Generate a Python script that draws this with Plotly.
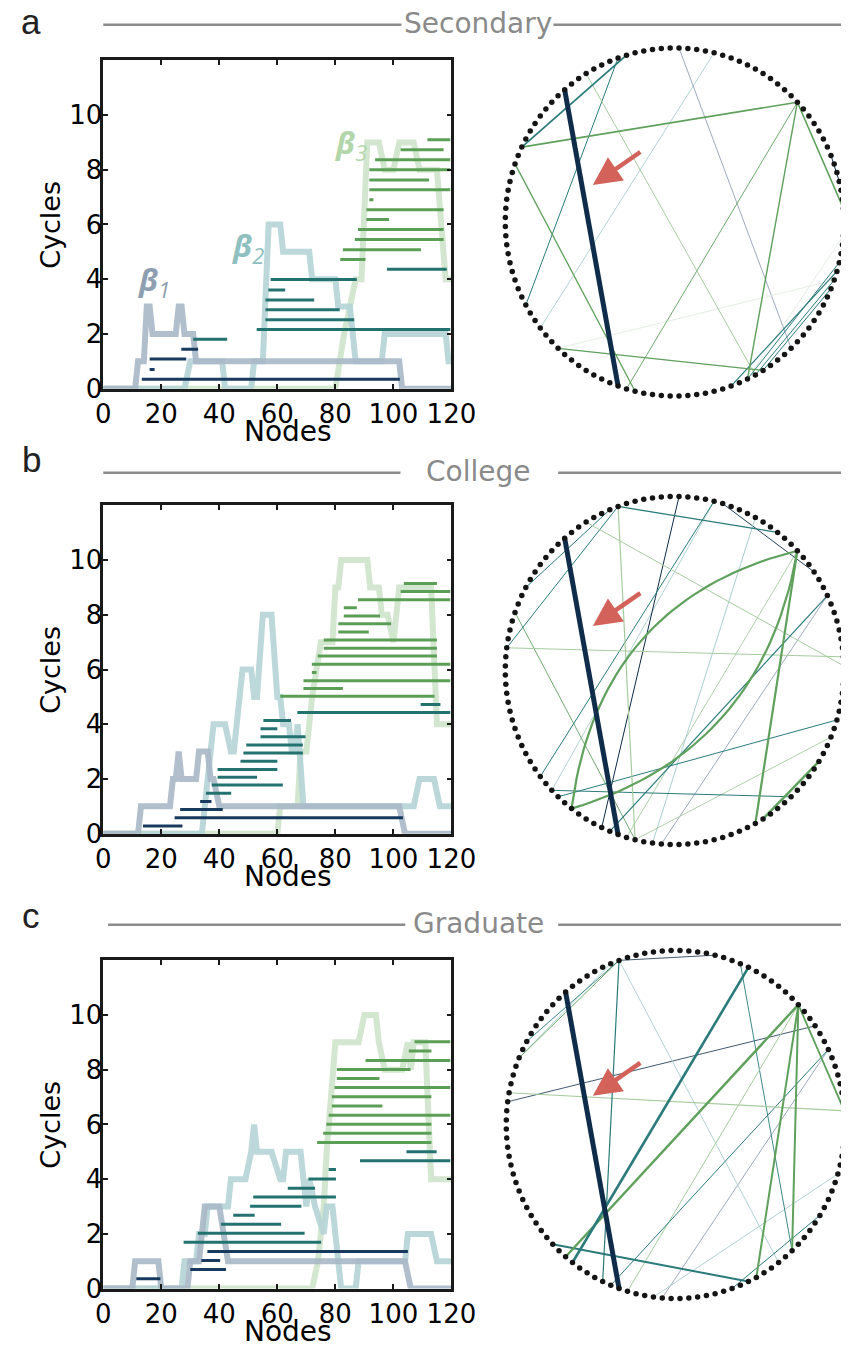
import math
import plotly.graph_objects as go

W, H = 866, 1359

# ------------------------------------------------------------------ data
panel_letters = ["a", "b", "c"]
panel_titles = ["Secondary", "College", "Graduate"]
x_ticks = [0, 20, 40, 60, 80, 100, 120]
y_ticks = [0, 2, 4, 6, 8, 10]

# Betti curves (node index, number of cycles)
a_beta1_x = [0, 11, 12, 14, 15, 16, 17, 25, 26, 27, 28, 31, 32, 102, 103, 120]
a_beta1_y = [0, 0, 1, 1, 3, 3, 2, 2, 3, 3, 2, 2, 1, 1, 0, 0]
a_beta2_x = [0, 28, 30, 41, 42, 51, 52, 55, 57, 61, 62, 71, 72, 80, 81, 85, 87, 96, 97, 118, 119, 120]
a_beta2_y = [0, 0, 1, 1, 0, 0, 1, 1, 6, 6, 5, 5, 4, 4, 3, 3, 1, 1, 2, 2, 1, 1]
a_beta3_x = [0, 80, 83, 87, 89, 91, 95, 97, 100, 102, 107, 109, 115, 118, 120]
a_beta3_y = [0, 0, 2, 4, 4, 9, 9, 8, 8, 9, 9, 8, 8, 4, 4]

b_beta1_x = [0, 12, 13, 23, 24, 25, 26, 27, 32, 33, 36, 37, 38, 40, 102, 104, 120]
b_beta1_y = [0, 0, 1, 1, 2, 2, 3, 2, 2, 3, 3, 2, 2, 1, 1, 0, 0]
b_beta2_x = [0, 34, 38, 42, 44, 45, 48, 51, 52, 53, 55, 58, 60, 61, 62, 64, 65, 66, 67, 69, 107, 109, 114, 116, 120]
b_beta2_y = [0, 0, 4, 4, 3, 3, 6, 6, 5, 5, 8, 8, 5, 5, 4, 4, 3, 3, 4, 1, 1, 2, 2, 1, 1]
b_beta3_x = [0, 60, 61, 67, 68, 70, 72, 75, 79, 80, 81, 82, 91, 92, 95, 96, 98, 100, 102, 113, 115, 120]
b_beta3_y = [0, 0, 1, 1, 3, 3, 5, 7, 7, 9, 9, 10, 10, 9, 9, 8, 8, 7, 9, 9, 4, 4]

c_beta1_x = [0, 10, 11, 19, 20, 29, 30, 33, 35, 40, 43, 104, 106, 120]
c_beta1_y = [0, 0, 1, 1, 0, 0, 1, 1, 3, 3, 1, 1, 0, 0]
c_beta2_x = [0, 27, 28, 32, 33, 35, 36, 43, 44, 49, 51, 52, 53, 58, 61, 62, 63, 68, 70, 71, 73, 76, 77, 79, 82, 87, 88, 104, 105, 113, 115, 120]
c_beta2_y = [0, 0, 1, 1, 2, 2, 3, 3, 4, 4, 5, 6, 5, 5, 4, 4, 5, 5, 3, 4, 3, 2, 3, 3, 0, 0, 1, 1, 2, 2, 1, 1]
c_beta3_x = [0, 72, 74, 76, 77, 79, 80, 88, 90, 94, 95, 97, 103, 105, 106, 107, 111, 113, 120]
c_beta3_y = [0, 0, 1, 3, 5, 8, 9, 9, 10, 10, 9, 8, 8, 9, 8, 9, 9, 4, 4]

# Barcodes: birth, death, vertical position
a_bar1_start = [13.3, 16.0, 16.0, 26.9]
a_bar1_end = [102.2, 17.7, 28.6, 32.7]
a_bar1_y = [0.34, 0.70, 1.08, 1.44]
a_bar2_start = [31.0, 52.9, 55.9, 55.9, 55.9, 56.9, 57.7, 97.8]
a_bar2_end = [42.7, 119.6, 86.5, 81.5, 72.7, 62.7, 87.4, 118.4]
a_bar2_y = [1.81, 2.16, 2.52, 2.88, 3.24, 3.61, 3.99, 4.36]
a_bar3_start = [81.7, 82.6, 86.7, 87.8, 90.7, 90.7, 91.7, 91.7, 91.7, 91.7, 93.7, 102.5, 111.7]
a_bar3_end = [90.4, 109.5, 117.3, 117.3, 98.5, 117.3, 93.1, 119.6, 112.3, 119.6, 119.6, 117.3, 119.6]
a_bar3_y = [4.72, 5.08, 5.45, 5.82, 6.18, 6.54, 6.90, 7.27, 7.63, 8.00, 8.37, 8.73, 9.10]

b_bar1_start = [13.7, 24.6, 26.5, 33.4]
b_bar1_end = [27.3, 103.3, 41.2, 37.3]
b_bar1_y = [0.28, 0.58, 0.88, 1.18]
b_bar2_start = [35.4, 37.4, 39.4, 39.4, 47.3, 48.3, 49.3, 54.2, 54.2, 55.2, 66.9, 109.4]
b_bar2_end = [44.1, 61.9, 53.0, 60.0, 60.0, 68.8, 68.8, 69.7, 60.0, 64.7, 119.6, 116.2]
b_bar2_y = [1.48, 1.78, 2.06, 2.35, 2.65, 2.95, 3.24, 3.54, 3.84, 4.14, 4.43, 4.72]
b_bar3_start = [61.0, 69.0, 69.0, 71.9, 71.9, 73.9, 76.0, 76.0, 81.0, 81.0, 82.9, 82.9, 87.8, 102.5, 103.6]
b_bar3_end = [114.2, 82.6, 119.6, 73.5, 119.6, 115.0, 115.0, 115.0, 91.5, 99.2, 95.4, 87.4, 119.6, 119.6, 115.0]
b_bar3_y = [5.02, 5.31, 5.59, 5.89, 6.19, 6.49, 6.78, 7.08, 7.37, 7.67, 7.96, 8.26, 8.55, 8.85, 9.14]

c_bar1_start = [11.4, 30.0, 33.8, 35.9]
c_bar1_end = [19.7, 42.3, 40.3, 105.0]
c_bar1_y = [0.36, 0.70, 1.03, 1.36]
c_bar2_start = [27.7, 32.6, 40.6, 44.8, 50.6, 51.7, 63.6, 70.7, 77.7, 88.5, 104.5]
c_bar2_end = [75.1, 69.4, 61.3, 52.2, 68.3, 80.2, 73.0, 80.2, 80.2, 119.6, 114.9]
c_bar2_y = [1.69, 2.02, 2.35, 2.68, 3.01, 3.35, 3.67, 4.01, 4.35, 4.67, 5.00]
c_bar3_start = [73.7, 75.8, 76.9, 77.7, 78.8, 78.8, 79.7, 80.5, 80.5, 90.4, 105.3, 107.3]
c_bar3_end = [113.1, 113.1, 113.1, 119.6, 96.2, 113.1, 119.6, 95.2, 105.9, 119.6, 113.1, 119.6]
c_bar3_y = [5.34, 5.68, 6.01, 6.34, 6.67, 7.01, 7.35, 7.68, 8.01, 8.34, 8.68, 9.02]

# Circle graphs: 120 nodes, edges between node indices
n_nodes = 120
a_src = [43, 35, 36, 51, 14, 14, 14, 53, 40, 25, 29, 75, 75, 118, 96, 99, 98, 100, 7]
a_dst = [83, 51, 69, 14, 1, 98, 84, 85, 99, 72, 104, 100, 113, 98, 114, 113, 115, 112, 4]
a_kind = ["n", "t", "t", "g", "g", "g", "g", "g", "lg", "lt", "gb", "g", "vl", "vl", "t", "t", "t", "t", "n"]
a_wid = [5, 1.8, 1.0, 1.6, 1.6, 1.4, 0.9, 1.3, 1.0, 0.8, 0.8, 1.3, 0.8, 0.8, 1.2, 1.0, 1.0, 1.0, 1.0]
a_bend = [0] * 19

b_src = [43, 14, 14, 14, 14, 36, 24, 29, 25, 36, 37, 36, 40, 57, 53, 8, 8, 20, 75, 74, 85, 100, 25]
b_dst = [83, 77, 77, 99, 84, 17, 11, 81, 72, 57, 50, 85, 0, 1, 85, 82, 88, 87, 114, 104, 112, 109, 74]
b_kind = ["n", "g", "g", "g", "lg", "t", "n", "n", "t", "t", "t", "lg", "lg", "lg", "g", "t", "gb", "lt", "t", "t", "lg", "g", "lt"]
b_wid = [5, 2.2, 2.2, 2.2, 0.9, 1.3, 0.9, 1.0, 1.0, 1.0, 1.0, 1.2, 1.0, 1.0, 0.9, 1.2, 0.8, 0.9, 1.0, 1.0, 0.9, 2.5, 0.8]
b_bend = [0, -0.62, 0.68] + [0] * 20

c_src = [43, 21, 14, 14, 14, 14, 14, 8, 8, 11, 56, 36, 36, 36, 22, 74, 36, 36, 114, 96, 37]
c_dst = [83, 77, 76, 99, 104, 1, 84, 82, 88, 57, 1, 81, 102, 25, 104, 98, 52, 50, 87, 109, 52]
c_kind = ["n", "t", "g", "g", "g", "g", "lg", "t", "gb", "n", "lg", "t", "lt", "n", "t", "t", "g", "t", "lt", "t", "lt"]
c_wid = [5, 2.6, 2.4, 2.0, 2.0, 1.8, 1.0, 1.0, 0.8, 0.8, 1.2, 1.2, 0.8, 0.8, 0.9, 2.0, 0.9, 0.9, 0.8, 1.0, 0.8]
c_bend = [0] * 21

# ------------------------------------------------------------------ styles
curve_colors = ["#a9b8c7", "#b5d4d6", "#cfe4ca"]
bar_colors = ["#173a5e", "#23726f", "#5b9e56"]
label_colors = ["#8e9fb2", "#8fc0c0", "#b2d6aa"]
edge_colors = {"n": "#0f2d4a", "t": "#2b7b7b", "g": "#5fa05c", "lg": "#a6cc9f",
               "lt": "#9fc7ca", "gb": "#8593aa", "vl": "#dde9dc"}
TICK_FONT = dict(family="DejaVu Sans", size=26, color="black")

def pxx(x):
    return x / W

def pyy(y):
    return 1 - y / H

fig = go.Figure()

rows = [
    dict(b1=(a_beta1_x, a_beta1_y), b2=(a_beta2_x, a_beta2_y), b3=(a_beta3_x, a_beta3_y),
         bars=[(a_bar1_start, a_bar1_end, a_bar1_y), (a_bar2_start, a_bar2_end, a_bar2_y), (a_bar3_start, a_bar3_end, a_bar3_y)],
         edges=(a_src, a_dst, a_kind, a_wid, a_bend),
         box_top=61, box_bot=393, cx=693, cy=224.5, head_y=25, line_l=(99, 409), line_r=567, letter_y=22),
    dict(b1=(b_beta1_x, b_beta1_y), b2=(b_beta2_x, b_beta2_y), b3=(b_beta3_x, b_beta3_y),
         bars=[(b_bar1_start, b_bar1_end, b_bar1_y), (b_bar2_start, b_bar2_end, b_bar2_y), (b_bar3_start, b_bar3_end, b_bar3_y)],
         edges=(b_src, b_dst, b_kind, b_wid, b_bend),
         box_top=511, box_bot=843, cx=693, cy=678, head_y=478, line_l=(99, 408), line_r=572, letter_y=465),
    dict(b1=(c_beta1_x, c_beta1_y), b2=(c_beta2_x, c_beta2_y), b3=(c_beta3_x, c_beta3_y),
         bars=[(c_bar1_start, c_bar1_end, c_bar1_y), (c_bar2_start, c_bar2_end, c_bar2_y), (c_bar3_start, c_bar3_end, c_bar3_y)],
         edges=(c_src, c_dst, c_kind, c_wid, c_bend),
         box_top=971, box_bot=1303, cx=694, cy=1137, head_y=935, line_l=(104, 413), line_r=572, letter_y=926),
]

R = 176.0
BOX_L, BOX_R = 99, 461
annotations = []
shapes = []
layout_axes = {}

def node_xy(k):
    ang = math.radians(3 * k + 1.5)
    return math.cos(ang), math.sin(ang)

for i, row in enumerate(rows):
    n = i + 1
    xa, ya = f"x{n}", f"y{n}"
    # ----- Betti curves (drawn back to front: beta3, beta2, beta1)
    for key, col in (("b3", curve_colors[2]), ("b2", curve_colors[1]), ("b1", curve_colors[0])):
        xs, ys = row[key]
        fig.add_trace(go.Scatter(x=xs, y=ys, mode="lines", xaxis=xa, yaxis=ya,
                                 line=dict(color=col, width=6), opacity=0.9,
                                 hoverinfo="skip", showlegend=False))
    # ----- barcodes
    for (st, en, yy), col in zip(row["bars"], bar_colors):
        bx, by = [], []
        for s, e, v in zip(st, en, yy):
            bx += [s, e, None]
            by += [v, v, None]
        fig.add_trace(go.Scatter(x=bx, y=by, mode="lines", xaxis=xa, yaxis=ya,
                                 line=dict(color=col, width=3), hoverinfo="skip", showlegend=False))
    ydom = [pyy(row["box_bot"]), pyy(row["box_top"])]
    axcommon = dict(showline=True, linewidth=2.5, linecolor="#1a1a1a", mirror="ticks",
                    ticks="inside", ticklen=5, tickwidth=2, tickcolor="#1a1a1a",
                    showgrid=False, zeroline=False, tickfont=TICK_FONT, fixedrange=True)
    layout_axes[f"xaxis{n}"] = dict(domain=[pxx(BOX_L), pxx(BOX_R)], range=[0, 120],
                                    tickvals=x_ticks, anchor=ya, ticklabelstandoff=0, **axcommon)
    layout_axes[f"yaxis{n}"] = dict(domain=ydom, range=[0, 12], tickvals=y_ticks,
                                    anchor=xa, ticklabelstandoff=-7, **axcommon)
    # axis titles
    annotations.append(dict(text="Nodes", x=pxx(291), y=pyy(row["box_bot"] + 43), xref="paper", yref="paper",
                            showarrow=False, font=dict(family="DejaVu Sans", size=28, color="black"),
                            xanchor="center", yanchor="middle"))
    annotations.append(dict(text="Cycles", x=pxx(44), y=pyy((row["box_top"] + row["box_bot"]) / 2),
                            xref="paper", yref="paper", showarrow=False, textangle=-90,
                            font=dict(family="DejaVu Sans", size=27, color="black"),
                            xanchor="center", yanchor="middle"))
    # panel letter and header
    annotations.append(dict(text=panel_letters[i], x=pxx(24), y=pyy(row["letter_y"]), xref="paper", yref="paper",
                            showarrow=False, font=dict(family="Liberation Sans", size=35, color="#222"),
                            xanchor="center", yanchor="middle"))
    annotations.append(dict(text=panel_titles[i], x=pxx(489), y=pyy(row["head_y"] - 1), xref="paper", yref="paper",
                            showarrow=False, font=dict(family="DejaVu Sans", size=28, color="#8a8a8a"),
                            xanchor="center", yanchor="middle"))
    shapes.append(dict(type="line", xref="paper", yref="paper", x0=pxx(row["line_l"][0]), x1=pxx(row["line_l"][1]),
                       y0=pyy(row["head_y"]), y1=pyy(row["head_y"]), line=dict(color="#8c8c8c", width=2.5)))
    shapes.append(dict(type="line", xref="paper", yref="paper", x0=pxx(row["line_r"]), x1=1,
                       y0=pyy(row["head_y"]), y1=pyy(row["head_y"]), line=dict(color="#8c8c8c", width=2.5)))

    # ----- circle graph
    m = n + 3
    cxa, cya = f"x{m}", f"y{m}"
    cx, cy = row["cx"], row["cy"]
    left_px = cx - 190
    layout_axes[f"xaxis{m}"] = dict(domain=[pxx(left_px), 1], range=[(left_px - cx) / R, (W - cx) / R],
                                    visible=False, fixedrange=True, anchor=cya)
    layout_axes[f"yaxis{m}"] = dict(domain=[pyy(cy + 190), pyy(cy - 190)], range=[-190 / R, 190 / R],
                                    visible=False, fixedrange=True, anchor=cxa)
    src, dst, kind, wid, bend = row["edges"]
    order = sorted(range(len(src)), key=lambda j: wid[j])
    for j in order:
        x0, y0 = node_xy(src[j])
        x2, y2 = node_xy(dst[j])
        if bend[j] == 0:
            ex, ey = [x0, x2], [y0, y2]
        else:
            mx, my = (x0 + x2) / 2, (y0 + y2) / 2
            dx, dy = x2 - x0, y2 - y0
            L = math.hypot(dx, dy)
            qx, qy = mx + bend[j] * dy / L, my - bend[j] * dx / L
            ex, ey = [], []
            for s in range(41):
                t = s / 40
                ex.append((1 - t) ** 2 * x0 + 2 * (1 - t) * t * qx + t * t * x2)
                ey.append((1 - t) ** 2 * y0 + 2 * (1 - t) * t * qy + t * t * y2)
        fig.add_trace(go.Scatter(x=ex, y=ey, mode="lines", xaxis=cxa, yaxis=cya,
                                 line=dict(color=edge_colors[kind[j]], width=wid[j]),
                                 hoverinfo="skip", showlegend=False))
    nx = [node_xy(k)[0] for k in range(n_nodes)]
    ny = [node_xy(k)[1] for k in range(n_nodes)]
    fig.add_trace(go.Scatter(x=nx, y=ny, mode="markers", xaxis=cxa, yaxis=cya,
                             marker=dict(color="#141414", size=5.5, line=dict(width=0)),
                             hoverinfo="skip", showlegend=False))
    # red arrow
    tip = (608, {0: 187, 1: 633, 2: 1108}[i])
    tail = (657, tip[1] - 34)
    annotations.append(dict(x=(tip[0] - cx) / R, y=(cy - tip[1]) / R, xref=cxa, yref=cya,
                            ax=tail[0] - tip[0], ay=tail[1] - tip[1], axref="pixel", ayref="pixel",
                            text="", showarrow=True, arrowhead=2, arrowsize=1.25, arrowwidth=4.5,
                            arrowcolor="#d2625a"))

# beta labels (panel a only)
beta_pos = [(152, 284), (250, 250), (357, 146)]
for k, ((bxp, byp), col) in enumerate(zip(beta_pos, label_colors)):
    annotations.append(dict(text=f"<b><i>β</i></b><sub><i>{k + 1}</i></sub>", x=pxx(bxp), y=pyy(byp),
                            xref="paper", yref="paper", showarrow=False,
                            font=dict(family="Open Sans", size=31, color=col),
                            xanchor="center", yanchor="middle"))

fig.update_layout(width=W, height=H, margin=dict(l=0, r=0, t=0, b=0),
                  paper_bgcolor="white", plot_bgcolor="white",
                  annotations=annotations, shapes=shapes, showlegend=False, **layout_axes)
fig.write_html("out.html")
